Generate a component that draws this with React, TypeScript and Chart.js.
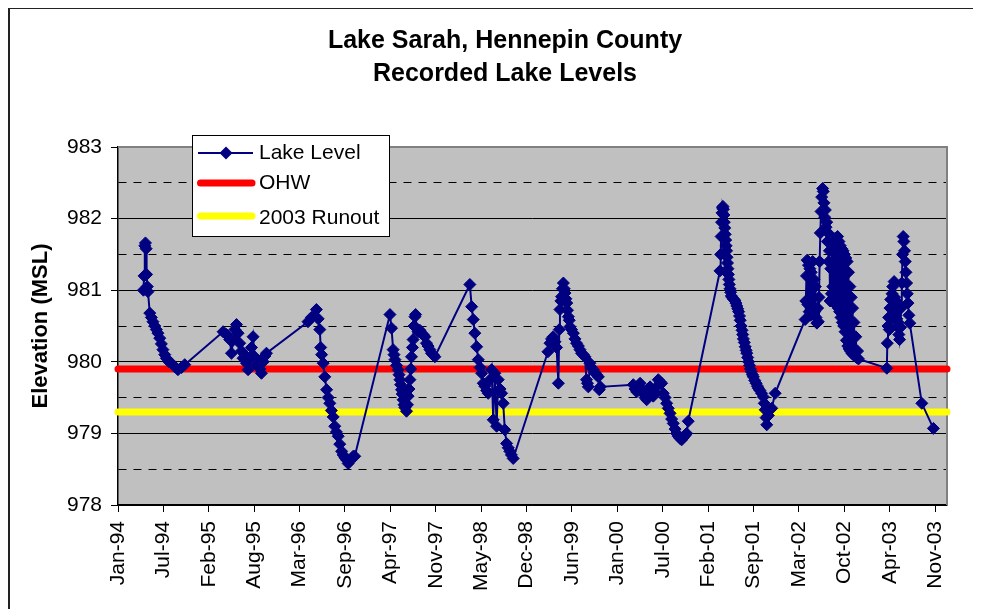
import React, { useEffect, useRef } from "react";
import { Chart, registerables } from "chart.js";

Chart.register(...registerables);

const FONT = '"Liberation Sans", Arial, Helvetica, sans-serif';

const titleLines = ["Lake Sarah, Hennepin County", "Recorded Lake Levels"];
const yAxisTitle = "Elevation (MSL)";
const seriesNames = ["Lake Level", "OHW", "2003 Runout"];
const monthNames = ["Jan", "Feb", "Mar", "Apr", "May", "Jun", "Jul", "Aug", "Sep", "Oct", "Nov", "Dec"];

// x axis: days since 1 Jan 1994
const axisStartDay = 0; // 1 Jan 1994
const axisEndDay = 3652; // 1 Jan 2004
const tickStepDays = 200;
const yMin = 978;
const yMax = 983;
const yStep = 0.5;

const ohwLevel = 979.9;
const runoutLevel = 979.3;

// Lake level readings: day offsets (since 1 Jan 1994) and elevations
const lakeDays = [
  112, 115, 118, 121, 124, 126, 129, 132, 140, 147, 154, 162, 169, 176, 184, 191, 198, 206, 213, 224, 235, 250, 264, 280, 294,
  463, 478, 492, 500, 507, 515, 522, 529, 536, 544, 551, 558, 566, 573, 580, 588, 595, 602, 610, 617, 625, 632, 640, 647, 654,
  837, 852, 874, 882, 889, 893, 897, 904, 911, 919, 926, 933, 940, 948, 955, 962, 970, 977, 985, 992, 1000, 1007, 1014, 1022, 1029, 1036, 1043,
  1198, 1205, 1212, 1216, 1220, 1227, 1234, 1238, 1242, 1245, 1249, 1252, 1256, 1260, 1264, 1271, 1275, 1278, 1282, 1286, 1290, 1293, 1297, 1300, 1304, 1308, 1311, 1315, 1322, 1330, 1337, 1344, 1352, 1359, 1366, 1374, 1381, 1388, 1396,
  1550, 1558, 1565, 1572, 1580, 1587, 1595, 1602, 1609, 1616, 1624, 1631, 1638, 1646, 1653, 1660, 1668, 1675, 1683, 1690, 1697, 1704, 1712, 1719, 1726, 1733, 1741,
  1894, 1903, 1910, 1917, 1925, 1932, 1940, 1944, 1947, 1951, 1954, 1958, 1962, 1966, 1969, 1973, 1977, 1980, 1984, 1988, 1991, 1998, 2006, 2013, 2020, 2028, 2035, 2042, 2050, 2057, 2064, 2068, 2072, 2079, 2086, 2094, 2101, 2108, 2116, 2120, 2125,
  2270, 2278, 2285, 2292, 2300, 2307, 2314, 2322, 2329, 2336, 2344, 2351, 2358, 2366, 2373, 2380, 2388, 2395, 2402, 2410, 2417, 2424, 2432, 2439, 2446, 2454, 2461, 2468, 2476, 2483, 2490, 2498, 2505, 2512,
  2652, 2655, 2657, 2659, 2661, 2663, 2665, 2667, 2669, 2671, 2673, 2675, 2677, 2679, 2681, 2683, 2685, 2687, 2689, 2691, 2693, 2696, 2699, 2702, 2706, 2710, 2714, 2718, 2722, 2726, 2730, 2734, 2738, 2741, 2745, 2749, 2752, 2755, 2759, 2763, 2767, 2770, 2774, 2778, 2782, 2786, 2790, 2795, 2799, 2805, 2811, 2817, 2821, 2828, 2835, 2843, 2847, 2851, 2855, 2858, 2865, 2873, 2880, 2895,
  3027, 3030, 3033, 3036, 3039, 3042, 3045, 3048, 3051, 3054, 3057, 3060, 3063, 3066, 3069, 3072, 3075, 3079, 3082, 3085, 3088, 3091, 3094, 3097, 3100, 3104, 3107, 3110, 3113, 3116, 3119, 3122, 3125, 3128, 3131, 3134,
  3137, 3140, 3143, 3146, 3149, 3152, 3155, 3158, 3161, 3164, 3167, 3170, 3173, 3176, 3179, 3182, 3185, 3188, 3191, 3194, 3197, 3200, 3203, 3206, 3209, 3212, 3215, 3218, 3221, 3224, 3227, 3230, 3233, 3236, 3239, 3242, 3246, 3250, 3254, 3258, 3262,
  3387, 3389, 3392, 3395, 3398, 3401, 3404, 3407, 3410, 3413, 3416, 3419, 3422, 3425, 3428, 3431, 3434, 3437, 3440, 3443, 3447, 3450, 3453, 3456, 3459, 3462, 3465, 3468, 3471, 3474, 3477, 3480, 3484, 3488, 3541, 3592,
];

const lakeLevels = [
  981.0, 981.2, 981.62, 981.66, 981.58, 981.22, 981.05, 980.98, 980.68, 980.62, 980.56, 980.5, 980.45, 980.4, 980.33, 980.25, 980.17, 980.1, 980.05, 980.0, 979.98, 979.93, 979.89, 979.92, 979.96,
  980.42, 980.38, 980.31, 980.12, 980.3, 980.45, 980.52, 980.4, 980.26, 980.15, 980.05, 980.1, 979.98, 979.89, 980.05, 980.2, 980.35, 980.07, 979.95, 980.0, 979.9, 979.84, 980.0, 980.08, 980.12,
  980.56, 980.62, 980.73, 980.6, 980.45, 980.2, 980.1, 979.98, 979.79, 979.61, 979.5, 979.42, 979.32, 979.23, 979.1, 979.02, 978.96, 978.85, 978.75, 978.7, 978.66, 978.63, 978.58, 978.62, 978.65, 978.68, 978.68,
  980.66, 980.47, 980.17, 980.1, 980.03, 979.95, 979.89, 979.82, 979.75, 979.68, 979.61, 979.55, 979.47, 979.4, 979.36, 979.31, 979.4, 979.52, 979.62, 979.75, 979.9, 980.07, 980.2, 980.31, 980.5, 980.63, 980.66, 980.47, 980.42, 980.44, 980.4, 980.38, 980.35, 980.26, 980.22, 980.17, 980.12, 980.1, 980.07,
  981.08, 980.77, 980.59, 980.4, 980.21, 980.03, 979.92, 979.84, 979.7, 979.66, 979.6, 979.56, 979.75, 979.89, 979.19, 979.84, 979.1, 979.75, 979.62, 979.56, 979.42, 979.05, 978.86, 978.8, 978.75, 978.7, 978.65,
  980.14, 980.26, 980.32, 980.35, 980.28, 980.2, 979.7, 980.45, 980.73, 980.85, 980.91, 981.02, 981.1, 981.02, 980.96, 980.88, 980.82, 980.72, 980.63, 980.58, 980.49, 980.45, 980.4, 980.32, 980.26, 980.22, 980.17, 980.12, 980.1, 980.07, 979.75, 979.7, 979.65, 979.98, 979.92, 979.89, 979.85, 979.82, 979.79, 979.61, 979.65,
  979.68, 979.62, 979.58, 979.65, 979.7, 979.62, 979.56, 979.5, 979.47, 979.55, 979.65, 979.6, 979.52, 979.56, 979.65, 979.75, 979.72, 979.7, 979.56, 979.5, 979.42, 979.35, 979.28, 979.2, 979.14, 979.06, 979.0, 978.96, 978.93, 978.91, 978.94, 978.97, 979.0, 979.17,
  981.27, 981.5, 981.75, 981.95, 982.08, 982.15, 982.17, 982.13, 982.05, 981.95, 981.87, 981.78, 981.7, 981.62, 981.55, 981.46, 981.38, 981.3, 981.22, 981.15, 981.08, 981.02, 980.97, 980.92, 980.9, 980.88, 980.87, 980.85, 980.82, 980.78, 980.74, 980.7, 980.64, 980.58, 980.5, 980.44, 980.38, 980.32, 980.27, 980.21, 980.16, 980.12, 980.06, 980.0, 979.95, 979.9, 979.86, 979.82, 979.79, 979.74, 979.7, 979.66, 979.63, 979.6, 979.56, 979.51, 979.42, 979.33, 979.22, 979.12, 979.25, 979.33, 979.35, 979.56,
  980.59, 980.85, 981.2, 981.42, 980.8, 981.35, 980.7, 981.3, 980.65, 981.25, 980.75, 981.4, 980.9, 981.15, 980.7, 981.05, 980.62, 980.54, 980.75, 980.56, 980.9, 981.4, 981.8, 982.1, 982.3, 982.42, 982.38, 982.22, 982.02, 982.12, 981.88, 981.95, 981.68, 981.8, 981.4, 981.55,
  980.85, 981.3, 980.95, 981.55, 981.05, 981.65, 980.9, 981.72, 980.8, 981.7, 980.78, 981.75, 980.75, 981.68, 980.7, 981.62, 980.62, 981.58, 980.55, 981.55, 980.5, 981.5, 980.42, 981.45, 980.3, 981.4, 980.22, 981.25, 980.18, 981.05, 980.15, 980.9, 980.12, 980.75, 980.1, 980.55, 980.08, 980.35, 980.06, 980.15, 980.04,
  979.91, 980.26, 980.5, 980.62, 980.45, 980.75, 980.87, 980.6, 980.95, 981.05, 980.8, 981.12, 980.9, 980.68, 980.85, 980.6, 980.49, 980.55, 980.38, 980.31, 980.48, 980.75, 981.1, 981.5, 981.75, 981.68, 981.55, 981.4, 981.25, 981.1, 980.95, 980.82, 980.65, 980.54, 979.42, 979.07,
];

const ohwDays = [axisStartDay, axisEndDay];
const runoutDays = [axisStartDay, axisEndDay];

function dayLabel(v: number): string {
  const d = new Date(Date.UTC(1994, 0, 1) + Math.round(v) * 86400000);
  const yy = String(d.getUTCFullYear() % 100).padStart(2, "0");
  return `${monthNames[d.getUTCMonth()]}-${yy}`;
}

const framePlugin = {
  id: "excelFrame",
  beforeDraw(chart: any) {
    const { ctx, chartArea: a } = chart;
    ctx.save();
    ctx.fillStyle = "#ffffff";
    ctx.fillRect(0, 0, chart.width, chart.height);
    ctx.fillStyle = "#C0C0C0";
    ctx.fillRect(a.left, a.top, a.right - a.left, a.bottom - a.top);
    ctx.strokeStyle = "#222222";
    ctx.lineWidth = 2;
    ctx.beginPath();
    ctx.moveTo(1, chart.height + 5);
    ctx.lineTo(1, 1);
    ctx.lineTo(chart.width + 5, 1);
    ctx.stroke();
    ctx.restore();
  },
  beforeDatasetsDraw(chart: any) {
    const { ctx, chartArea: a } = chart;
    ctx.save();
    ctx.strokeStyle = "#808080";
    ctx.lineWidth = 2;
    ctx.beginPath();
    ctx.moveTo(a.left, a.top);
    ctx.lineTo(a.right, a.top);
    ctx.lineTo(a.right, a.bottom);
    ctx.stroke();
    ctx.restore();
  },
};

const boxLegendPlugin = {
  id: "boxLegend",
  afterDraw(chart: any) {
    const { ctx, chartArea: a } = chart;
    const bx = a.left + 74;
    const by = a.top - 12;
    const bw = 198;
    const bh = 102;
    ctx.save();
    ctx.fillStyle = "#ffffff";
    ctx.fillRect(bx, by, bw, bh);
    ctx.strokeStyle = "#000000";
    ctx.lineWidth = 1;
    ctx.strokeRect(bx + 0.5, by + 0.5, bw - 1, bh - 1);

    const textX = bx + 67;
    const rows = [by + 18, by + 48, by + 83];
    ctx.font = `21px ${FONT}`;
    ctx.textBaseline = "middle";
    ctx.textAlign = "left";

    // Lake Level: line + diamond
    ctx.strokeStyle = "#000080";
    ctx.lineWidth = 2;
    ctx.lineCap = "butt";
    ctx.beginPath();
    ctx.moveTo(bx + 6, rows[0]);
    ctx.lineTo(bx + 61, rows[0]);
    ctx.stroke();
    const cx = bx + 34;
    const r = 6.5;
    ctx.fillStyle = "#000080";
    ctx.beginPath();
    ctx.moveTo(cx - r, rows[0]);
    ctx.lineTo(cx, rows[0] - r);
    ctx.lineTo(cx + r, rows[0]);
    ctx.lineTo(cx, rows[0] + r);
    ctx.closePath();
    ctx.fill();

    // OHW & runout thick lines
    ctx.lineWidth = 7;
    ctx.lineCap = "round";
    ctx.strokeStyle = "#FF0000";
    ctx.beginPath();
    ctx.moveTo(bx + 8.5, rows[1]);
    ctx.lineTo(bx + 60, rows[1]);
    ctx.stroke();
    ctx.strokeStyle = "#FFFF00";
    ctx.beginPath();
    ctx.moveTo(bx + 8.5, rows[2] - 2);
    ctx.lineTo(bx + 60, rows[2] - 2);
    ctx.stroke();

    ctx.fillStyle = "#000000";
    ctx.fillText(seriesNames[0], textX, rows[0]);
    ctx.fillText(seriesNames[1], textX, rows[1]);
    ctx.fillText(seriesNames[2], textX, rows[2]);
    ctx.restore();
  },
};

export default function App() {
  const canvasRef = useRef<HTMLCanvasElement | null>(null);

  useEffect(() => {
    const canvas = canvasRef.current;
    if (!canvas) return;
    const isHalf = (c: any) => c && c.tick && Math.abs(c.tick.value % 1) > 1e-6;
    const chart = new Chart(canvas, {
      type: "line",
      data: {
        datasets: [
          {
            label: seriesNames[0],
            data: lakeDays.map((d, i) => ({ x: d, y: lakeLevels[i] })),
            borderColor: "#000080",
            backgroundColor: "#000080",
            borderWidth: 2,
            pointStyle: "rectRot",
            pointRadius: 6,
            pointBorderWidth: 1,
            pointBackgroundColor: "#000080",
            pointBorderColor: "#000080",
            tension: 0,
            fill: false,
          },
          {
            label: seriesNames[1],
            data: ohwDays.map((d) => ({ x: d, y: ohwLevel })),
            borderColor: "#FF0000",
            backgroundColor: "#FF0000",
            borderWidth: 7,
            borderCapStyle: "round",
            pointRadius: 0,
            fill: false,
            clip: 12,
          },
          {
            label: seriesNames[2],
            data: runoutDays.map((d) => ({ x: d, y: runoutLevel })),
            borderColor: "#FFFF00",
            backgroundColor: "#FFFF00",
            borderWidth: 7,
            borderCapStyle: "round",
            pointRadius: 0,
            fill: false,
            clip: 12,
          },
        ],
      },
      options: {
        animation: false,
        responsive: false,
        devicePixelRatio: 1,
        layout: { padding: { left: 0, right: 0, top: 0, bottom: 0 } },
        plugins: {
          legend: { display: false },
          tooltip: { enabled: false },
          title: {
            display: true,
            text: titleLines,
            color: "#000000",
            font: { family: FONT, size: 25, weight: "bold", lineHeight: 1.32 },
            padding: { top: 17.5, bottom: 56.5 },
          },
        },
        scales: {
          x: {
            type: "linear",
            position: "bottom",
            min: axisStartDay,
            max: axisEndDay,
            afterFit: (s: any) => {
              s.height = 104;
            },
            ticks: {
              stepSize: tickStepDays,
              includeBounds: false,
              autoSkip: false,
              maxRotation: 90,
              minRotation: 90,
              padding: 9,
              color: "#000000",
              font: { family: FONT, size: 21 },
              callback: (v: any) => dayLabel(Number(v)),
            },
            grid: {
              drawOnChartArea: false,
              drawTicks: true,
              tickLength: 7,
              tickColor: "#000000",
              tickWidth: 1,
            },
            border: { display: true, color: "#000000", width: 1.5 },
          },
          y: {
            type: "linear",
            position: "left",
            min: yMin,
            max: yMax,
            afterFit: (s: any) => {
              s.width = 110;
            },
            ticks: {
              stepSize: yStep,
              autoSkip: false,
              padding: 9,
              color: "#000000",
              font: { family: FONT, size: 21 },
              callback: (v: any) => (Math.abs(Number(v) % 1) < 1e-6 ? String(Number(v)) : ""),
            },
            grid: {
              color: "#000000",
              lineWidth: 1,
              drawTicks: true,
              tickLength: 7,
              tickWidth: 1,
              tickColor: (c: any) => (isHalf(c) ? "rgba(0,0,0,0)" : "#000000"),
            },
            border: {
              display: true,
              color: "#000000",
              width: 1.5,
              dash: (c: any) => (isHalf(c) ? [8, 7] : []),
            },
            title: {
              display: true,
              text: yAxisTitle,
              color: "#000000",
              font: { family: FONT, size: 22, weight: "bold" },
              padding: { top: 20, bottom: 0 },
            },
          },
          // empty right-hand spacer so the plot ends where the reference does
          yRight: {
            type: "linear",
            position: "right",
            display: true,
            min: yMin,
            max: yMax,
            afterFit: (s: any) => {
              s.width = 55;
            },
            ticks: { display: false },
            grid: { drawOnChartArea: false, drawTicks: false },
            border: { display: false },
            title: { display: false },
          },
        },
      },
      plugins: [framePlugin, boxLegendPlugin],
    } as any);
    return () => {
      chart.destroy();
    };
  }, []);

  return (
    <div style={{ width: 973, height: 602, overflow: "hidden", marginTop: -1 }}>
      <canvas ref={canvasRef} width={994} height={602} style={{ display: "block", width: 994, height: 602 }} />
    </div>
  );
}
